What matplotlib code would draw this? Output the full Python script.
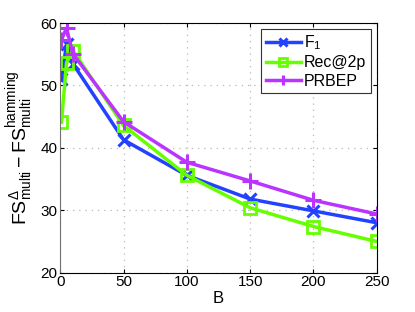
import matplotlib
matplotlib.use('Agg')
import matplotlib.pyplot as plt

plt.rcParams['font.family'] = ['Liberation Sans', 'DejaVu Sans']
plt.rcParams['mathtext.fontset'] = 'custom'
plt.rcParams['mathtext.rm'] = 'Liberation Sans'
plt.rcParams['mathtext.it'] = 'Liberation Sans:italic'
plt.rcParams['font.size'] = 11

# budget B and score differences per measure
B = [1, 5, 10, 50, 100, 150, 200, 250]
f1 = [51.0, 56.6, 53.5, 41.3, 35.6, 31.8, 29.9, 28.0]
rec2p = [44.1, 53.6, 55.6, 43.6, 35.6, 30.4, 27.4, 25.0]
prbep = [57.3, 59.2, 55.1, 44.2, 37.7, 34.7, 31.6, 29.4]

fig = plt.figure(figsize=(4.15, 3.12), dpi=100)
ax = fig.add_axes([0.145, 0.126, 0.763, 0.8])

ax.plot(B, f1, color='#2242ff', lw=2.5, marker='x', ms=8, mew=2.2, label=r'F$_1$')
ax.plot(B, rec2p, color='#66ff00', lw=2.5, marker='s', ms=8, mew=2.0,
        mfc='none', label='Rec@2p')
ax.plot(B, prbep, color='#bb33ff', lw=2.5, marker='+', ms=11, mew=2.2, label='PRBEP')

ax.set_xlim(0, 250)
ax.set_ylim(20, 60)
ax.set_xticks([0, 50, 100, 150, 200, 250])
ax.set_yticks([20, 30, 40, 50, 60])
ax.grid(True, color='#b8b8b8', linestyle=(0, (1, 4)), lw=0.9)
ax.tick_params(direction='in', length=3, top=True, right=True, pad=2)
for s in ax.spines.values():
    s.set_linewidth(0.8)
ax.spines['left'].set_color('#707070')

ax.set_xlabel('B', fontsize=12, labelpad=1)
ax.set_ylabel(r'$\mathrm{FS}^{\Delta}_{\mathrm{multi}} - \mathrm{FS}^{\mathrm{hamming}}_{\mathrm{multi}}$',
              fontsize=14, labelpad=3)

leg = ax.legend(loc='upper right', fancybox=False, edgecolor='#333333',
                framealpha=1, borderaxespad=0.35, handlelength=2.2,
                handletextpad=0.2, labelspacing=0.2, borderpad=0.3,
                markerscale=0.7, fontsize=11.5)
leg.get_frame().set_linewidth(0.8)

fig.savefig('out.png', dpi=100)
